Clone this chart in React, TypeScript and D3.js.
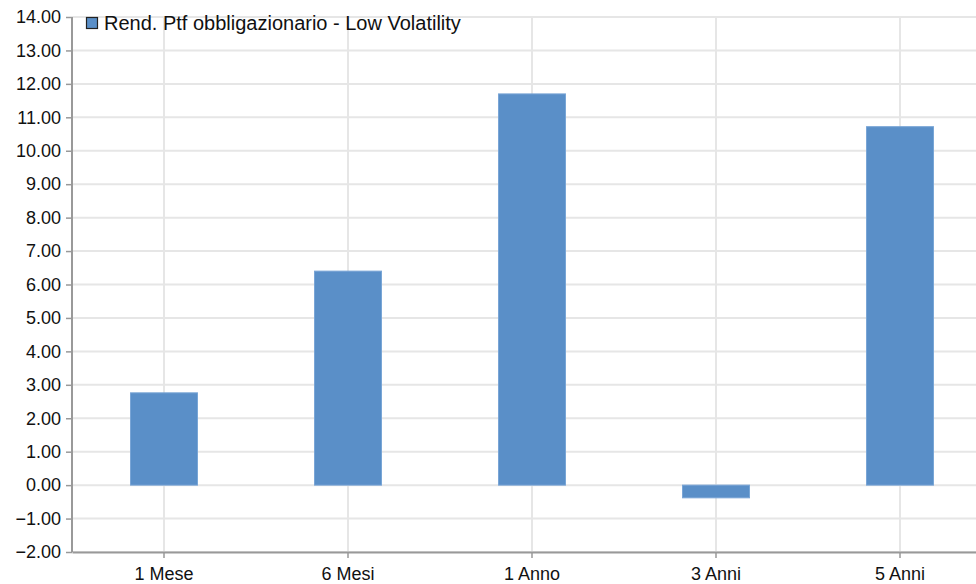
import React, { useEffect, useRef } from 'react';
import * as d3 from 'd3';

const categories = ['1 Mese', '6 Mesi', '1 Anno', '3 Anni', '5 Anni'];
const values = [2.76, 6.4, 11.7, -0.38, 10.72];
const seriesName = 'Rend. Ptf obbligazionario - Low Volatility';
const yTicks = d3.range(-2, 14.01, 1);

const App: React.FC = () => {
  const svgRef = useRef<SVGSVGElement>(null);

  useEffect(() => {
    if (!svgRef.current) return;
    const width = 976;
    const height = 584;
    const margin = { top: 17, left: 72, bottom: 32 };
    const font = '"Liberation Sans", Arial, sans-serif';

    const svg = d3.select(svgRef.current);
    svg.selectAll('*').remove();
    svg.attr('width', width).attr('height', height);

    // plot runs past the right edge of the window (clipped in the original)
    const x = d3.scaleBand<string>()
      .domain(categories)
      .range([margin.left, margin.left + 920])
      .paddingInner(0.636)
      .paddingOuter(0.318);

    const y = d3.scaleLinear()
      .domain([-2, 14])
      .range([height - margin.bottom, margin.top]);

    const centers = categories.map(c => (x(c) ?? 0) + x.bandwidth() / 2);

    // Grid
    const grid = svg.append('g');
    grid.selectAll('.hgrid')
      .data(yTicks)
      .enter().append('line')
      .attr('x1', margin.left).attr('x2', width)
      .attr('y1', d => y(d)).attr('y2', d => y(d))
      .style('stroke', '#e6e6e6').style('stroke-width', 2);
    grid.selectAll('.vgrid')
      .data(centers)
      .enter().append('line')
      .attr('x1', d => d).attr('x2', d => d)
      .attr('y1', y(14)).attr('y2', y(-2))
      .style('stroke', '#e6e6e6').style('stroke-width', 2);

    // Bars
    svg.append('g').selectAll('rect')
      .data(values)
      .enter().append('rect')
      .attr('x', (d, i) => x(categories[i]) ?? 0)
      .attr('width', x.bandwidth())
      .attr('y', d => y(Math.max(0, d)))
      .attr('height', d => Math.abs(y(d) - y(0)))
      .style('fill', '#5a8fc8')
      .style('stroke', '#79a5d6')
      .style('stroke-width', 1);

    // Y axis
    const yAxis = svg.append('g')
      .attr('transform', `translate(${margin.left},0)`)
      .call(d3.axisLeft(y).tickValues(yTicks).tickSize(6).tickPadding(5).tickFormat(d3.format('.2f')));
    yAxis.select('.domain').style('stroke', '#999').style('stroke-width', 2).attr('d', `M0,${y(14)}V${y(-2)}`);
    yAxis.selectAll('.tick line').style('stroke', '#999').style('stroke-width', 1.5);
    yAxis.selectAll('text').style('font-family', font).style('font-size', '18px').style('fill', '#111');

    // X axis
    const xAxis = svg.append('g')
      .attr('transform', `translate(0,${y(-2)})`)
      .call(d3.axisBottom(x).tickSize(6).tickPadding(9).tickSizeOuter(0));
    xAxis.select('.domain').style('stroke', '#999').style('stroke-width', 2);
    xAxis.selectAll('.tick line').style('stroke', '#999').style('stroke-width', 1.5);
    xAxis.selectAll('text').style('font-family', font).style('font-size', '18px').style('fill', '#111');

    // Legend
    const legend = svg.append('g').attr('transform', 'translate(86,17)');
    legend.append('rect')
      .attr('x', 0.5).attr('y', 0.5).attr('width', 11).attr('height', 11)
      .style('fill', '#5a8fc8').style('stroke', '#222').style('stroke-width', 1.2);
    legend.append('text')
      .attr('x', 18).attr('y', 13)
      .text(seriesName)
      .style('font-family', font).style('font-size', '20px').style('fill', '#111');
  }, []);

  return (
    <div style={{ position: 'absolute', left: 0, top: 0, width: 976, height: 584, overflow: 'hidden', background: '#fff' }}>
      <svg ref={svgRef} style={{ display: 'block' }} />
    </div>
  );
};

export default App;
